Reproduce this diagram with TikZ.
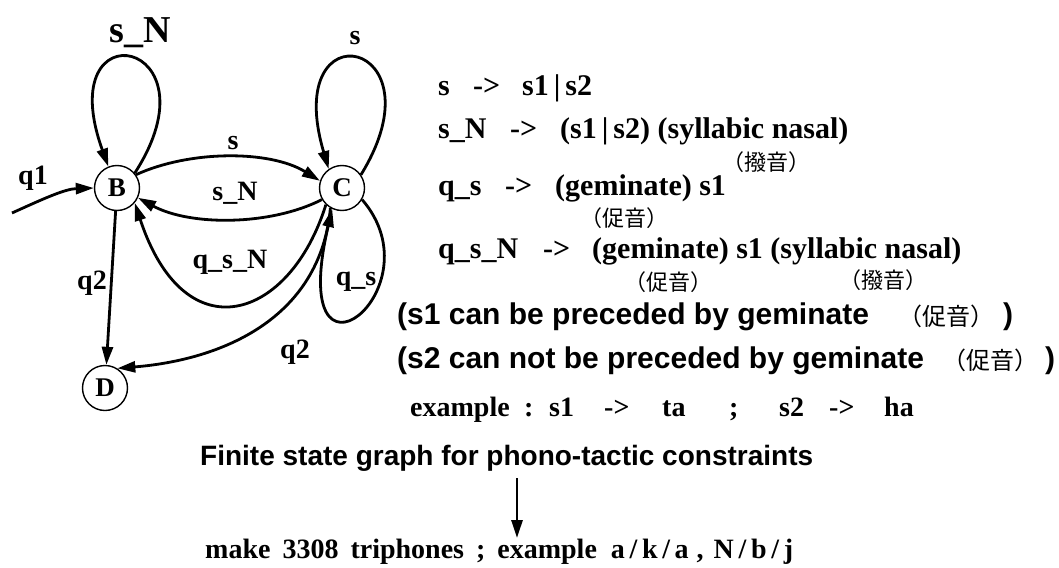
\documentclass[tikz,border=0pt]{standalone}
\usepackage{fontspec}
\setmainfont{Liberation Serif}
\setsansfont{Liberation Sans}
\newfontfamily\cjk{Noto Sans CJK JP}
\usetikzlibrary{arrows.meta}
\tikzset{
  state/.style={circle,draw,line width=1.4pt,minimum size=45pt,inner sep=0pt,font=\fontsize{27}{27}\selectfont\bfseries},
  edge/.style={line width=2.8pt,-{Triangle[length=18pt,width=11pt]}},
  glbl/.style={inner sep=0pt,font=\fontsize{28}{28}\selectfont\bfseries},
  tx/.style={anchor=base west,inner sep=0pt,font=\fontsize{30}{30}\selectfont\bfseries},
  cj/.style={inner sep=0pt,font=\fontsize{22}{22}\selectfont\cjk},
  cjb/.style={inner sep=0pt,font=\fontsize{24}{24}\selectfont\cjk},
  sx/.style={anchor=base west,inner sep=0pt,font=\fontsize{30}{30}\selectfont\sffamily\bfseries},
  bx/.style={anchor=base west,inner sep=0pt,font=\fontsize{28}{28}\selectfont\bfseries},
}
\begin{document}
\begin{tikzpicture}[x=1pt,y=-1pt]
\useasboundingbox (0,0) rectangle (1059,567);
% states
\node[state] (B) at (117,188) {B};
\node[state] (C) at (342,188) {C};
\node[state] (D) at (105,388) {D};
\coordinate (q1s) at (12,213);
% edges
\draw[edge] (q1s) .. controls (45,198) and (65,189) .. (B.west);
\draw[edge] (B.40) .. controls (222,38) and (50,5) .. (B.112);
\draw[edge] (C.35) .. controls (445,38) and (280,5) .. (C.125);
\draw[edge] (B.35) .. controls (190,150) and (270,150) .. (C.162);
\draw[edge] (C.210) .. controls (270,226) and (190,226) .. (B.-25);
\draw[edge] (C.226) .. controls (290,320) and (185,355) .. (B.-40);
\draw[edge] (C.-30) .. controls (440,290) and (285,410) .. (C.-115);
\draw[edge] (C.-120) .. controls (320,320) and (220,360) .. (D.58);
\draw[edge] (B) -- (D);
% graph labels
\node[glbl,font=\fontsize{38}{38}\selectfont\bfseries] (lBB) at (140,33) {s\_N};
\node[glbl] (lCC) at (355,38) {s};
\node[glbl] (lBC) at (233,143) {s};
\node[glbl] (lCB) at (235,193) {s\_N};
\node[glbl] (lq1) at (33,178) {q1};
\node[glbl] (lBD) at (92,283) {q2};
\node[glbl] (lqsN) at (230,262) {q\_s\_N};
\node[glbl] (lqs) at (356,282) {q\_s};
\node[glbl] (lCD) at (295,352) {q2};
% rules
\node[tx] (r1a) at (438,96) {s};
\node[tx] (r1b) at (473,96) {->};
\node[tx] (r1c) at (522,96) {s1\,\textbar\,s2};
\node[tx] (r2a) at (438,138) {s\_N};
\node[tx] (r2b) at (510,138) {->};
\node[tx] (r2c) at (560,138) {(s1\,\textbar\,s2) (syllabic nasal)};
\node[cj] (r2j) at (766,162) {（撥音）};
\node[tx] (r3a) at (438,195) {q\_s};
\node[tx] (r3b) at (505,195) {->};
\node[tx] (r3c) at (555,195) {(geminate) s1};
\node[cj] (r3j) at (624,218) {（促音）};
\node[tx] (r4a) at (438,258) {q\_s\_N};
\node[tx] (r4b) at (543,258) {->};
\node[tx] (r4c) at (592,258) {(geminate) s1 (syllabic nasal)};
\node[cj] (r4j) at (668,282) {（促音）};
\node[cj] (r4k) at (883,280) {（撥音）};
% notes
\node[sx] (n1) at (397,324) {(s1 can be preceded by geminate};
\node[cjb] (n1j) at (946,316) {（促音）};
\node[sx] (n1e) at (1003,324) {)};
\node[sx] (n2) at (397,368) {(s2 can not be preceded by geminate};
\node[cjb] (n2j) at (990,360) {（促音）};
\node[sx] (n2e) at (1045,368) {)};
% example line
\node[bx] (e1) at (410,416) {example};
\node[bx] (e2) at (524,416) {:};
\node[bx] (e3) at (549,416) {s1};
\node[bx] (e4) at (604,416) {->};
\node[bx] (e5) at (662,416) {ta};
\node[bx] (e6) at (729,416) {;};
\node[bx] (e7) at (779,416) {s2};
\node[bx] (e8) at (829,416) {->};
\node[bx] (e9) at (884,416) {ha};
% caption, arrow, result
\node[inner sep=0pt,anchor=base west,font=\fontsize{28}{28}\selectfont\sffamily\bfseries] (fin) at (200,465) {Finite state graph for phono-tactic constraints};
\coordinate (a1) at (517,478);
\coordinate (a2) at (517,538);
\draw[edge] (a1) -- (a2);
\node[bx] (mk) at (205,558) {make\hspace{12pt}3308\hspace{12pt}triphones\hspace{12pt};\hspace{12pt}example\hspace{14pt}a\,/\,k\,/\,a\hspace{8pt},\hspace{10pt}N\,/\,b\,/\,j};
\end{tikzpicture}
\end{document}
